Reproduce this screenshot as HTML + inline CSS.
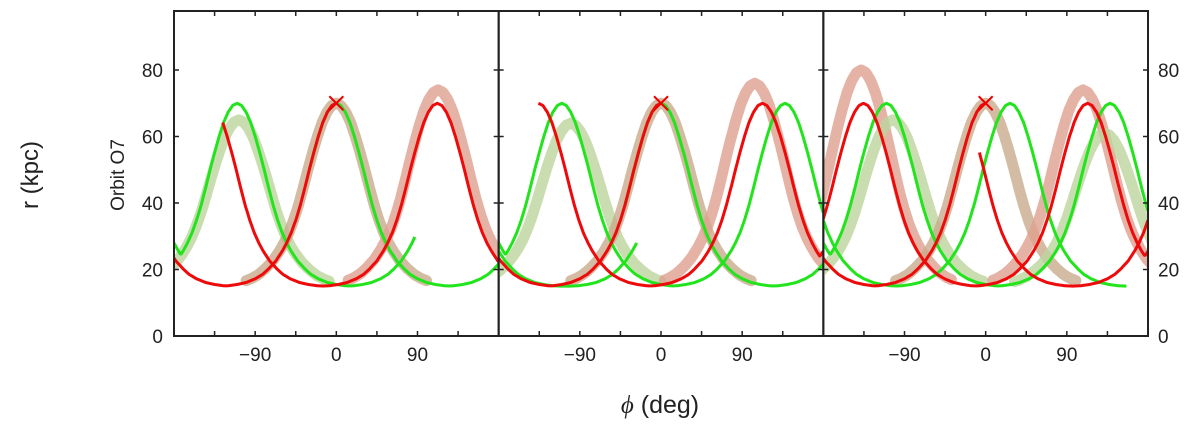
<!DOCTYPE html>
<html><head><meta charset="utf-8"><style>
html,body{margin:0;padding:0;background:#fff;}
svg{display:block;font-family:"Liberation Sans",sans-serif;}
</style></head><body>
<svg id="chart" width="1200" height="430" viewBox="0 0 1200 430">
<text x="38" y="175" font-size="24" fill="#222" text-anchor="middle" transform="rotate(-90 38 175)">r (kpc)</text>
<text x="124" y="175" font-size="19" fill="#222" text-anchor="middle" transform="rotate(-90 124 175)">Orbit O7</text>
<text x="660" y="413" font-size="25" fill="#222" text-anchor="middle"><tspan font-family="'Liberation Serif',serif" font-style="italic">ϕ</tspan> (deg)</text>
<g id="plots"></g>
</svg>
<script>
// shared peak profile (offset from peak in deg, r in kpc)
const profileOffsets = [0, 5, 10, 15, 20, 25, 30, 35, 40, 45, 50, 55, 60, 67, 75, 82, 90, 100, 110, 120, 130];
const profileR = [70, 69.3, 67.3, 64.2, 60, 55.2, 50, 44.5, 39.3, 34.8, 31, 28, 25.5, 22.6, 20.2, 18.5, 17.2, 16.1, 15.5, 15.1, 15];
const yTicks = [0, 20, 40, 60, 80];
const xTicks = [-90, 0, 90];
const xMinorTicks = [-135, -90, -45, 0, 45, 90, 135];
// panel 1 tracks: peaks and phi ranges
const p1Red = [{peaks:[-245,0],range:[-180,0]},{peaks:[-141,112,258],range:[-126,180]}];
const p1Green = [{peaks:[-235,-110,139],range:[-180,87]},{peaks:[0,250],range:[-30,180]}];
const p1Bands = [{peak:-108,rmax:65,color:"#bcd49c"},{peak:0,rmax:70,color:"#c8ab8c"},{peak:113,rmax:74,color:"#dea08e"}];
// panel 2
const p2Red = [{peaks:[-245,0],range:[-180,0]},{peaks:[-136,112.5,240],range:[-136,180]}];
const p2Green = [{peaks:[-235,-110,137.5,260],range:[-180,180]},{peaks:[0,250],range:[-40,180]},{peaks:[-240,28],range:[-180,-27]}];
const p2Bands = [{peak:-100,rmax:64,color:"#bcd49c"},{peak:0,rmax:70,color:"#c8ab8c"},{peak:104,rmax:76,color:"#dea08e"}];
// panel 3
const p3Red = [{peaks:[-245,0],range:[-180,0]},{peaks:[-135.5,113,240],range:[-180,180]},{peaks:[-32,225],range:[-7,180]}];
const p3Green = [{peaks:[-235,-110,138],range:[-180,180]},{peaks:[-225,27],range:[-180,156]}];
const p3Bands = [{peak:-138,rmax:80,color:"#dea08e"},{peak:-103,rmax:65,color:"#bcd49c"},{peak:0,rmax:70,color:"#c8ab8c"},{peak:108,rmax:74,color:"#dea08e"},{peak:132,rmax:61,color:"#bcd49c"}];

const panels = [{red:p1Red,green:p1Green,bands:p1Bands},{red:p2Red,green:p2Green,bands:p2Bands},{red:p3Red,green:p3Green,bands:p3Bands}];
const NS = "http://www.w3.org/2000/svg";
const top0 = 11, bot0 = 336, left0 = 174, pw = 324.67;
function yS(r){ return bot0 - r * 3.325; }
function xS(p, phi){ return left0 + p * pw + (phi + 180) * pw / 360; }
function prof(d){
  d = Math.abs(d);
  for (let i = 1; i < profileOffsets.length; i++) {
    if (d <= profileOffsets[i]) {
      const t = (d - profileOffsets[i-1]) / (profileOffsets[i] - profileOffsets[i-1]);
      return profileR[i-1] + t * (profileR[i] - profileR[i-1]);
    }
  }
  return profileR[profileR.length - 1];
}
const g = document.getElementById('plots');
function mk(tag, attrs){ const e = document.createElementNS(NS, tag); for (const k in attrs) e.setAttribute(k, attrs[k]); return e; }

panels.forEach((pn, p) => {
  const x0 = left0 + p * pw;
  const clip = mk('clipPath', {id: 'clip' + p});
  clip.appendChild(mk('rect', {x: x0, y: top0, width: pw, height: bot0 - top0}));
  g.appendChild(clip);
  const pg = mk('g', {'clip-path': 'url(#clip' + p + ')'});
  
  
  g.appendChild(pg);
  pn.bands.forEach((b, i) => {
    let d = '';
    for (let o = -100; o <= 100; o += 1) {
      const r = 15 + (prof(o * 0.95) - 15) * (b.rmax - 15) / 55;
      d += (o === -100 ? 'M' : 'L') + xS(p, b.peak + o).toFixed(1) + ' ' + yS(r).toFixed(1);
    }
    const path = mk('path', {d: d, fill: 'none', stroke: b.color, 'stroke-width': 11, 'stroke-opacity': 0.8, 'stroke-linejoin': 'round', 'stroke-linecap': 'round'});
    
    
    pg.appendChild(path);
  });
  function drawTracks(list, color, nm){
    list.forEach((t, i) => {
      let d = '';
      for (let phi = t.range[0]; phi <= t.range[1]; phi += 1) {
        let r = 0;
        t.peaks.forEach(pk => { r = Math.max(r, prof(phi - pk)); });
        d += (phi === t.range[0] ? 'M' : 'L') + xS(p, phi).toFixed(1) + ' ' + yS(r).toFixed(1);
      }
      const path = mk('path', {d: d, fill: 'none', stroke: color, 'stroke-width': 3, 'stroke-linejoin': 'round'});
      
      
      pg.appendChild(path);
    });
  }
  drawTracks(pn.green, '#22e41c', 'green');
  drawTracks(pn.red, '#ee0a0a', 'red');
  const cx = xS(p, 0), cy = yS(70);
  const xm = mk('path', {d: `M${cx-7} ${cy-7}L${cx+7} ${cy+7}M${cx-7} ${cy+7}L${cx+7} ${cy-7}`, stroke: '#e00', 'stroke-width': 2, fill: 'none'});
  
  
  g.appendChild(xm);
  const fr = mk('rect', {x: x0, y: top0, width: pw, height: bot0 - top0, fill: 'none', stroke: '#222', 'stroke-width': 2});
  
  
  g.appendChild(fr);
  xMinorTicks.forEach(t => {
    const x = xS(p, t);
    const tk = mk('path', {d: `M${x} ${bot0}V${bot0-5}M${x} ${top0}V${top0+5}`, stroke: '#222', 'stroke-width': 1.5});
    
    
    g.appendChild(tk);
  });
  xTicks.forEach(t => {
    const lb = mk('text', {x: xS(p, t), y: 361, 'font-size': 19, fill: '#222', 'text-anchor': 'middle'});
    lb.textContent = t < 0 ? '\u2212' + Math.abs(t) : String(t);
    
    
    g.appendChild(lb);
  });
  yTicks.forEach(t => {
    if (t === 0) return;
    const y = yS(t);
    const tk = mk('path', {d: `M${x0} ${y}H${x0+5}M${x0+pw} ${y}H${x0+pw-5}`, stroke: '#222', 'stroke-width': 1.5});
    
    
    g.appendChild(tk);
  });
});
yTicks.forEach(t => {
  const y = yS(t) + 7;
  const l = mk('text', {x: 163, y: y, 'font-size': 19, fill: '#222', 'text-anchor': 'end'});
  l.textContent = String(t);
  
  
  g.appendChild(l);
  const r = mk('text', {x: 1158, y: y, 'font-size': 19, fill: '#222', 'text-anchor': 'start'});
  r.textContent = String(t);
  
  
  g.appendChild(r);
});
</script>
</body></html>
